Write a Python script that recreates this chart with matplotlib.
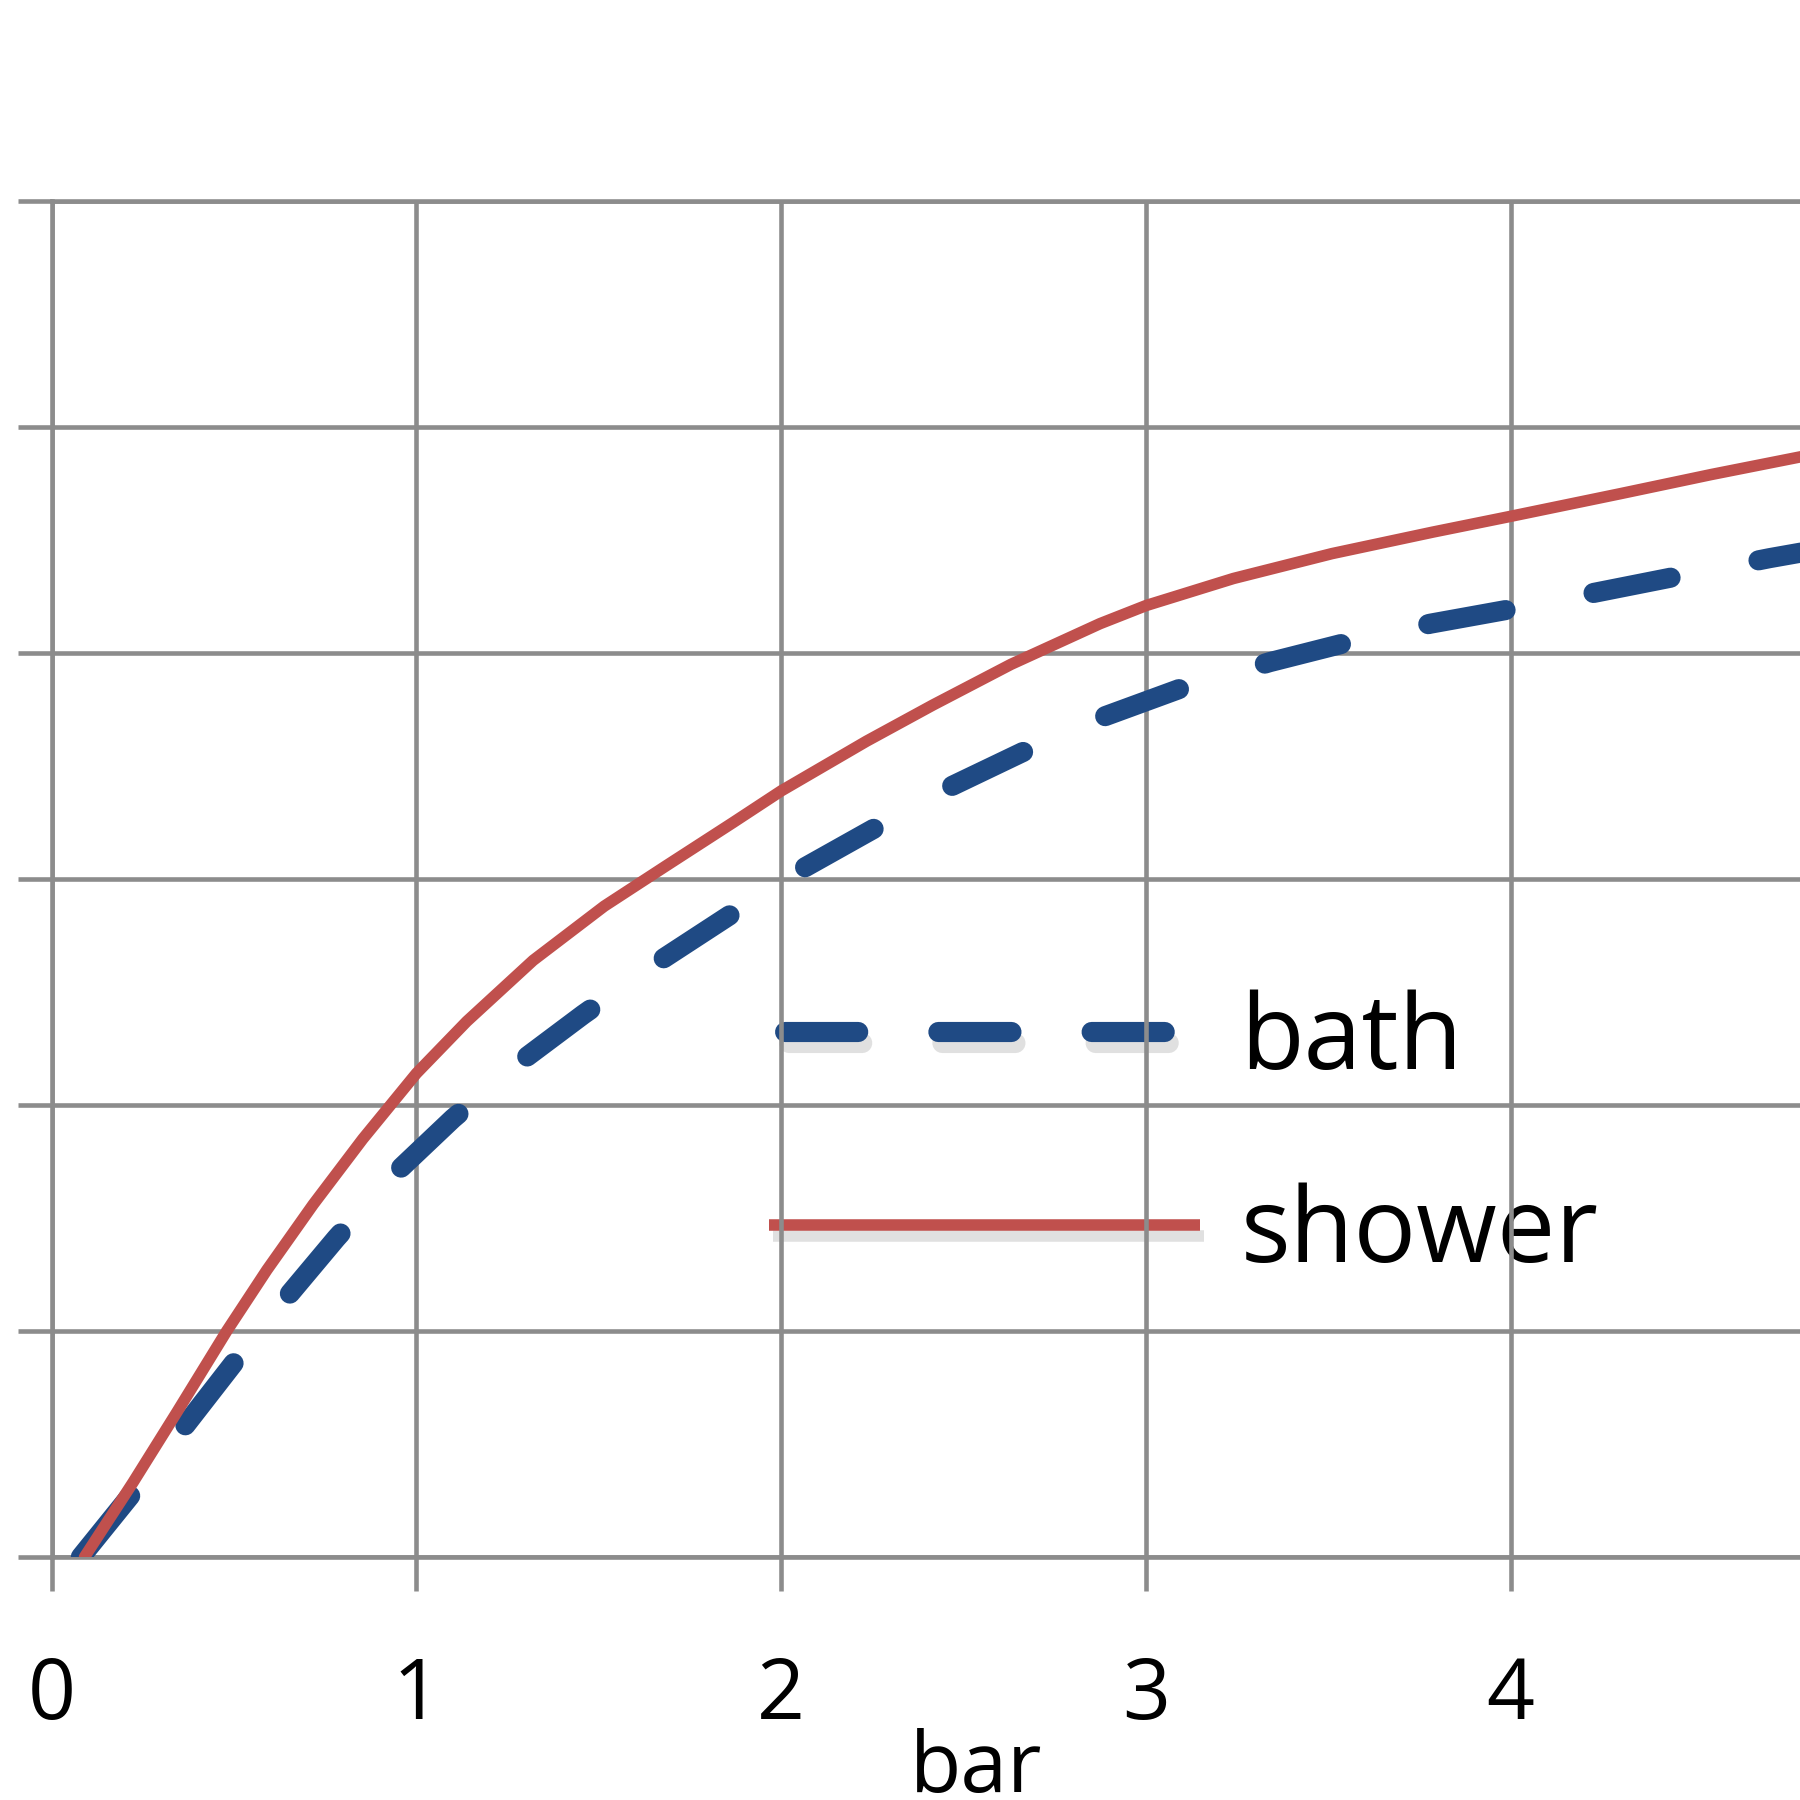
import matplotlib
matplotlib.use("Agg")
import matplotlib.pyplot as plt
from matplotlib.lines import Line2D
import matplotlib.patheffects as pe

plt.rcParams['font.family'] = ['Open Sans', 'DejaVu Sans']

# ---- data ----
x_ticks = [0, 1, 2, 3, 4]
y_ticks = [0, 1, 2, 3, 4, 5, 6]

shower_x = [0.09, 0.223, 0.343, 0.48, 0.59, 0.717, 0.853, 1.0, 1.138, 1.32,
            1.515, 1.686, 1.868, 2.0, 2.234, 2.416, 2.63, 2.874, 3.0, 3.24,
            3.51, 3.786, 4.0, 4.3, 4.55, 4.8]
shower_y = [0.0, 0.33, 0.64, 1.0, 1.27, 1.56, 1.85, 2.14, 2.37, 2.64,
            2.88, 3.06, 3.25, 3.39, 3.61, 3.77, 3.95, 4.13, 4.21, 4.33,
            4.44, 4.535, 4.605, 4.705, 4.79, 4.87]

bath_x = [0.08, 0.23, 0.37, 0.50, 0.645, 0.78, 0.93, 1.10, 1.275, 1.457, 1.65,
          1.84, 2.03, 2.24, 2.44, 2.66, 2.87, 3.09, 3.34, 3.56, 3.78, 4.02,
          4.24, 4.49, 4.71, 4.85]
bath_y = [0.0, 0.30, 0.59, 0.86, 1.15, 1.41, 1.68, 1.94, 2.18, 2.40, 2.62,
          2.82, 3.02, 3.21, 3.39, 3.56, 3.71, 3.84, 3.96, 4.05, 4.13, 4.20,
          4.27, 4.35, 4.42, 4.46]

series_labels = ['bath', 'shower']
x_label = 'bar'

# ---- style ----
RED = '#C0504D'
BLUE = '#1F4A84'
GRID = '#8C8C8C'
GLW = 3.3
BLUE_LW = 14.5
RED_LW = 8.3
LEG_FS = 75

fig = plt.figure(figsize=(18, 18), dpi=100)
ax = fig.add_axes([0.0287, 0.135, 0.9713, 0.7533])
ax.set_xlim(0, 4.793)
ax.set_ylim(0, 6)

ax.set_xticks(x_ticks)
ax.set_yticks(y_ticks)
ax.grid(True, color=GRID, linewidth=GLW)
ax.set_axisbelow(False)
for side in ['left', 'top', 'bottom']:
    ax.spines[side].set_color(GRID)
    ax.spines[side].set_linewidth(GLW)
ax.spines['right'].set_visible(False)

ax.tick_params(axis='both', direction='out', length=24.5, width=GLW,
               color=GRID)
ax.tick_params(axis='x', labelsize=60.5, pad=46, labelcolor='black')
ax.tick_params(axis='y', labelleft=False)

ax.plot(bath_x, bath_y, color=BLUE, lw=BLUE_LW, dashes=(3.9, 4.45),
        dash_capstyle='round', zorder=3)
ax.plot(shower_x, shower_y, color=RED, lw=RED_LW, solid_capstyle='round',
        zorder=3.1)

shadow = [pe.SimpleLineShadow(offset=(3, -8), shadow_color='#9a9a9a', alpha=0.3),
          pe.Normal()]
h_bath = Line2D([], [], color=BLUE, lw=BLUE_LW, linestyle=(6.81, (3.63, 3.98)),
                dash_capstyle='round', path_effects=shadow)
h_shower = Line2D([], [], color=RED, lw=RED_LW, solid_capstyle='butt',
                  path_effects=shadow)
leg = ax.legend([h_bath, h_shower], series_labels, loc='upper left',
                bbox_to_anchor=(769 / 1800, 1 - 989 / 1800),
                bbox_transform=fig.transFigure, frameon=False,
                fontsize=LEG_FS, handlelength=4.14, handletextpad=0.384,
                labelspacing=0.85, borderpad=0, borderaxespad=0)
leg.set_zorder(2.4)

fig.text(976 / 1800, 1 - 1792 / 1800, x_label, fontsize=60.5,
         ha='center', va='baseline')

fig.savefig('out.png', dpi=100)
